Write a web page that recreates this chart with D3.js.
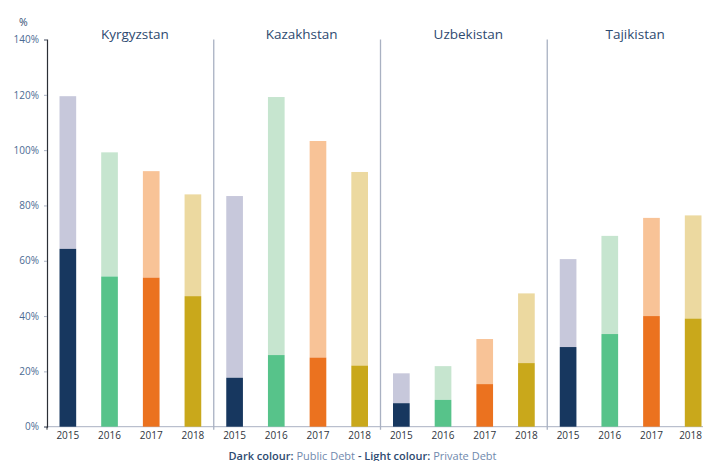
<!DOCTYPE html>
<html>
<head>
<meta charset="utf-8">
<script src="https://cdn.jsdelivr.net/npm/d3@7"></script>
<style>
  body { margin: 0; background: #fff; }
  svg { display: block; font-family: "Open Sans", sans-serif; }
</style>
</head>
<body>
<svg width="703" height="461"></svg>
<script>
// values (% of GDP)
var countries = ["Kyrgyzstan", "Kazakhstan", "Uzbekistan", "Tajikistan"];
var years = ["2015", "2016", "2017", "2018"];
var publicDebt = [
  [64.3, 54.3, 53.9, 47.2],
  [17.7, 25.9, 25.0, 22.1],
  [8.5, 9.7, 15.4, 23.0],
  [28.8, 33.5, 40.0, 39.1]
];
var privateDebt = [
  [55.2, 44.9, 38.5, 36.8],
  [65.7, 93.3, 78.3, 70.0],
  [10.8, 12.2, 16.3, 25.2],
  [31.8, 35.5, 35.5, 37.3]
];
var yTicks = [0, 20, 40, 60, 80, 100, 120, 140];

var darkColors = ["#17375f", "#57c38a", "#eb721f", "#c9a81b"];
var lightColors = ["#c7c8db", "#c6e5cf", "#f8c397", "#ecd9a0"];

var svg = d3.select("svg"),
    width = +svg.attr("width");

var y = d3.scaleLinear().domain([0, 140]).range([426.7, 39.5]);
var xOuter = d3.scaleBand().domain(countries).range([47, 714]).padding(0);
var xInner = d3.scaleBand().domain(years).range([0, xOuter.bandwidth()])
    .paddingInner(0.6).paddingOuter(0.3);

// "%" unit
svg.append("text")
    .attr("x", 19).attr("y", 26)
    .attr("font-size", 10.5)
    .attr("fill", "#2e4a70")
    .text("%");

// bottom baseline
svg.append("line")
    .attr("x1", 47).attr("x2", 703)
    .attr("y1", y(0)).attr("y2", y(0))
    .attr("stroke", "#a9b1c2").attr("stroke-width", 1);

// separators between countries
svg.selectAll("line.sep")
    .data(countries.slice(1))
    .enter()
    .append("line")
    .attr("class", "sep")
    .attr("x1", function(d) { return xOuter(d); })
    .attr("x2", function(d) { return xOuter(d); })
    .attr("y1", y(140))
    .attr("y2", y(0) + 3)
    .attr("stroke", "#a9b1c2").attr("stroke-width", 1.3);

// left y axis
var yAxis = svg.append("g")
    .attr("transform", "translate(47,0)")
    .call(d3.axisLeft(y).tickValues(yTicks).tickSize(3).tickPadding(5)
      .tickFormat(function(d) { return d + "%"; }));
yAxis.select(".domain").attr("stroke", "#2b2f36").attr("stroke-width", 1.2);
yAxis.selectAll(".tick line").attr("stroke", "#a9b1c2");
yAxis.selectAll(".tick text")
    .attr("font-family", "Open Sans, sans-serif")
    .attr("font-size", 10)
    .attr("fill", "#4b6a93");

// small tick below origin
svg.append("line")
    .attr("x1", 47).attr("x2", 47)
    .attr("y1", y(0)).attr("y2", y(0) + 3)
    .attr("stroke", "#2b2f36");

var groups = svg.selectAll("g.country")
    .data(countries)
    .enter()
    .append("g")
    .attr("class", "country")
    .attr("transform", function(d) { return "translate(" + xOuter(d) + ",0)"; });

// country titles
groups.append("text")
    .attr("x", xOuter.bandwidth() / 2 + 4.5)
    .attr("y", 38.5)
    .attr("text-anchor", "middle")
    .attr("font-size", 13.5)
    .attr("fill", "#2e4a70")
    .text(function(d) { return d; });

// light (private) segment on top of dark (public)
groups.each(function(c, ci) {
  var g = d3.select(this);
  var offset = xOuter(c);
  var rows = years.map(function(yr, i) {
    return { year: yr, i: i, pub: publicDebt[ci][i], priv: privateDebt[ci][i] };
  });

  g.selectAll("rect.priv")
      .data(rows)
      .enter()
      .append("rect")
      .attr("class", "priv")
      .attr("x", function(d) { return xInner(d.year); })
      .attr("width", xInner.bandwidth())
      .attr("y", function(d) { return y(d.pub + d.priv); })
      .attr("height", function(d) { return y(d.pub) - y(d.pub + d.priv); })
      .attr("fill", function(d) { return lightColors[d.i]; });

  g.selectAll("rect.pub")
      .data(rows)
      .enter()
      .append("rect")
      .attr("class", "pub")
      .attr("x", function(d) { return xInner(d.year); })
      .attr("width", xInner.bandwidth())
      .attr("y", function(d) { return y(d.pub); })
      .attr("height", function(d) { return y(0) - y(d.pub); })
      .attr("fill", function(d) { return darkColors[d.i]; });

  g.selectAll("text.year")
      .data(rows)
      .enter()
      .append("text")
      .attr("class", "year")
      .attr("y", 438.5)
      .attr("text-anchor", "middle")
      .attr("font-size", 10)
      .attr("fill", "#30353d")
      .text(function(d) { return d.year; })
      .attr("x", function(d) {
        var cx = xInner(d.year) + xInner.bandwidth() / 2;
        var half = this.getComputedTextLength() / 2;
        // keep the last label inside the picture
        return Math.min(cx, width - offset - half - 1);
      });
});

// legend note
var note = svg.append("text")
    .attr("x", 362.5)
    .attr("y", 459.5)
    .attr("text-anchor", "middle")
    .attr("font-size", 11);
note.append("tspan").attr("fill", "#2e4a70").attr("font-weight", 600).text("Dark colour:");
note.append("tspan").attr("fill", "#7089ad").text(" Public Debt ");
note.append("tspan").attr("fill", "#2e4a70").attr("font-weight", 600).text("- Light colour:");
note.append("tspan").attr("fill", "#7089ad").text(" Private Debt");
</script>
</body>
</html>
